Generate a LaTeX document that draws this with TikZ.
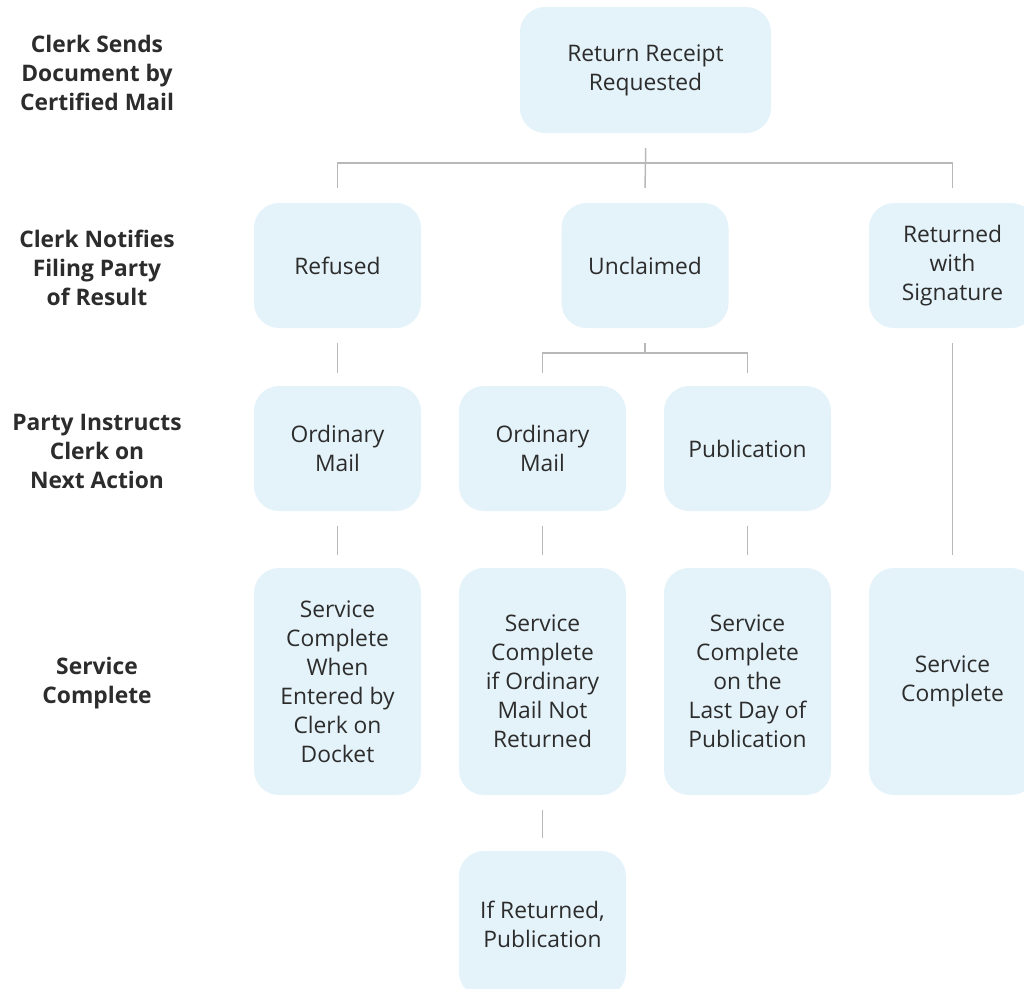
\documentclass[tikz,border=0pt]{standalone}
\usepackage{fontspec}
\setmainfont{Open Sans}
\usetikzlibrary{calc}
\definecolor{boxfill}{HTML}{E4F3F9}
\definecolor{linegray}{HTML}{B8B8B8}
\definecolor{txtgray}{HTML}{2C2C2C}

\begin{document}
\begin{tikzpicture}[x=1pt,y=1pt,yscale=-1,
  stage/.style={rectangle,rounded corners=25pt,fill=boxfill,text=txtgray,minimum width=167pt,minimum height=125pt,inner sep=0pt,align=center,font=\fontsize{22.8}{29}\selectfont},
  tallstage/.style={stage,minimum height=227pt},
  rowlabel/.style={text=txtgray,align=center,font=\fontsize{22.8}{29}\selectfont\bfseries},
  link/.style={draw=linegray,line width=1.5pt}]
\clip (0,0) rectangle (1024,988);

% Row labels
\node[rowlabel] (lblsend) at (97,73) {Clerk Sends\\Document by\\Certified Mail};
\node[rowlabel] (lblnotify) at (97,268) {Clerk Notifies\\Filing Party\\of Result};
\node[rowlabel] (lblinstruct) at (97,451) {Party Instructs\\Clerk on\\Next Action};
\node[rowlabel] (lbldone) at (97,683) {Service\\Complete};

% Boxes
\node[stage,minimum width=251pt,minimum height=126pt] (receipt) at (645.5,70) {Return Receipt\\Requested};
\node[stage] (refused) at (337.5,265.5) {Refused};
\node[stage] (unclaimed) at (645,265.5) {Unclaimed};
\node[stage] (retsig) at (952.5,265.5) {Returned\\with\\Signature};
\node[stage] (ordmailA) at (337.5,448.5) {Ordinary\\Mail};
\node[stage] (ordmailB) at (542.5,448.5) {Ordinary\\Mail};
\node[stage] (publ) at (747.5,448.5) {Publication};
\node[tallstage] (doneA) at (337.5,681.5) {Service\\Complete\\When\\Entered by\\Clerk on\\Docket};
\node[tallstage] (doneB) at (542.5,681.5) {Service\\Complete\\if Ordinary\\Mail Not\\Returned};
\node[tallstage] (doneC) at (747.5,681.5) {Service\\Complete\\on the\\Last Day of\\Publication};
\node[tallstage] (doneD) at (952.5,681.5) {Service\\Complete};
\node[stage,minimum height=146pt] (ifret) at (542.5,924) {If Returned,\\Publication};

% Connectors
\coordinate (splitA) at (645.5,163);
\coordinate (splitB) at (645,353);
\draw[link] ($(receipt.south)+(0,15)$) -- (splitA) -- ($(unclaimed.north)+(0,-15)$);
\draw[link] ($(refused.north)+(0,-15)$) |- (splitA) -| ($(retsig.north)+(0,-15)$);
\draw[link] ($(unclaimed.south)+(0,15)$) -- (splitB);
\draw[link] ($(ordmailB.north)+(0,-13)$) |- (splitB) -| ($(publ.north)+(0,-13)$);
\draw[link,shorten <=15pt,shorten >=13pt] (refused) -- (ordmailA);
\draw[link,shorten <=15pt,shorten >=13pt] (retsig) -- (doneD);
\draw[link,shorten <=15pt,shorten >=13pt] (ordmailA) -- (doneA);
\draw[link,shorten <=15pt,shorten >=13pt] (ordmailB) -- (doneB);
\draw[link,shorten <=15pt,shorten >=13pt] (publ) -- (doneC);
\draw[link,shorten <=15pt,shorten >=13pt] (doneB) -- (ifret);

\end{tikzpicture}
\end{document}
